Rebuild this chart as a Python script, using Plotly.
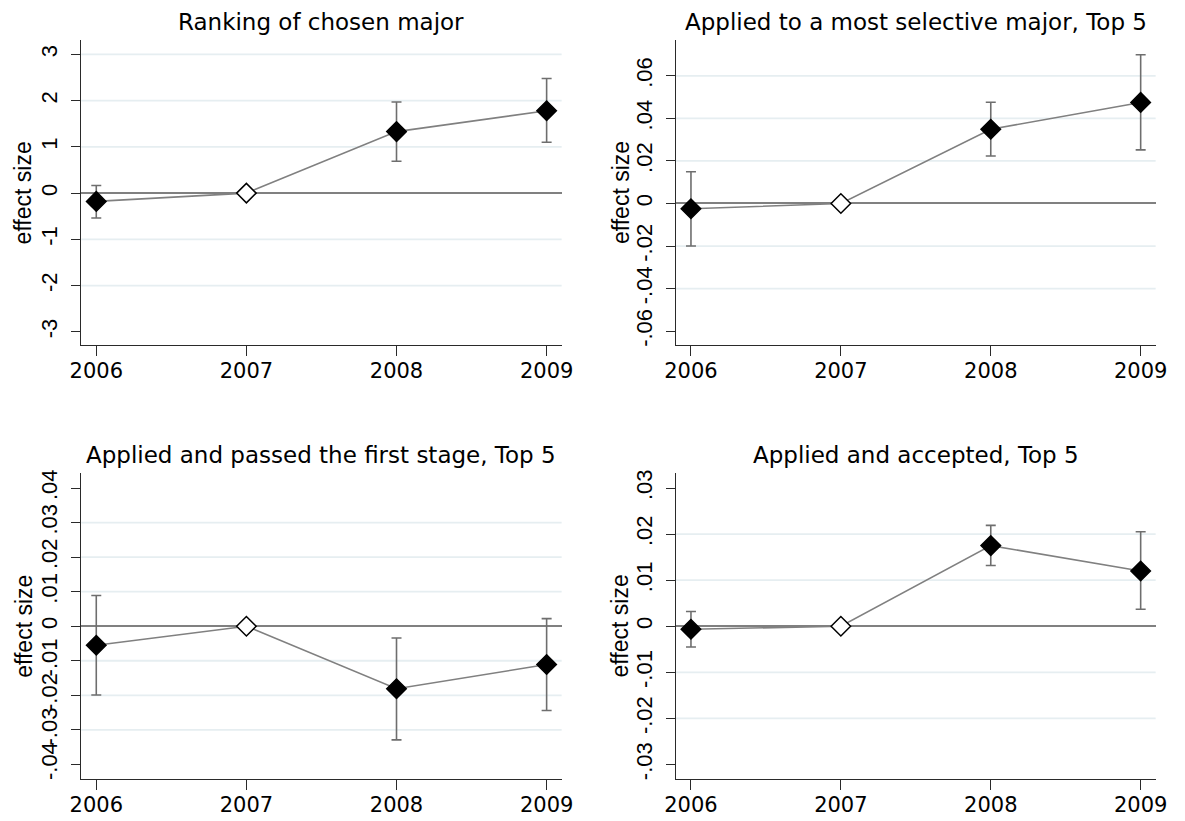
import plotly.graph_objects as go

years = [2006, 2007, 2008, 2009]

titles = [
    "Ranking of chosen major",
    "Applied to a most selective major, Top 5",
    "Applied and passed the first stage, Top 5",
    "Applied and accepted, Top 5",
]

# point estimates and confidence bounds
coef1 = [-0.18, 0.0, 1.33, 1.78]
lo1 = [-0.54, 0.0, 0.69, 1.10]
hi1 = [0.165, 0.0, 1.97, 2.48]

coef2 = [-0.0025, 0.0, 0.0349, 0.0475]
lo2 = [-0.0200, 0.0, 0.0223, 0.0252]
hi2 = [0.0149, 0.0, 0.0476, 0.0699]

coef3 = [-0.0055, 0.0, -0.0181, -0.0111]
lo3 = [-0.0199, 0.0, -0.0329, -0.0244]
hi3 = [0.0089, 0.0, -0.0034, 0.0022]

coef4 = [-0.00065, 0.0, 0.0175, 0.0120]
lo4 = [-0.0045, 0.0, 0.0132, 0.0037]
hi4 = [0.0032, 0.0, 0.0219, 0.0205]

# y ticks
ytick1 = [3, 2, 1, 0, -1, -2, -3]
ylab1 = ["3", "2", "1", "0", "-1", "-2", "-3"]
ygrid1 = [3, 2, 1, -1, -2]

ytick2 = [0.06, 0.04, 0.02, 0, -0.02, -0.04, -0.06]
ylab2 = [".06", ".04", ".02", "0", "-.02", "-.04", "-.06"]
ygrid2 = [0.06, 0.04, 0.02, -0.02, -0.04]

ytick3 = [0.04, 0.03, 0.02, 0.01, 0, -0.01, -0.02, -0.03, -0.04]
ylab3 = [".04", ".03", ".02", ".01", "0", "-.01", "-.02", "-.03", "-.04"]
ygrid3 = [0.03, 0.02, 0.01, -0.01, -0.02, -0.03]

ytick4 = [0.03, 0.02, 0.01, 0, -0.01, -0.02, -0.03]
ylab4 = [".03", ".02", ".01", "0", "-.01", "-.02", "-.03"]
ygrid4 = [0.02, 0.01, -0.01, -0.02]

yrange1 = [-3.29, 3.31]
yrange2 = [-0.0666, 0.0768]
yrange3 = [-0.0443, 0.0444]
yrange4 = [-0.0332, 0.0333]

panels = [
    (coef1, lo1, hi1, ytick1, ylab1, ygrid1, yrange1),
    (coef2, lo2, hi2, ytick2, ylab2, ygrid2, yrange2),
    (coef3, lo3, hi3, ytick3, ylab3, ygrid3, yrange3),
    (coef4, lo4, hi4, ytick4, ylab4, ygrid4, yrange4),
]

W, H = 1185, 821
FONT_H = "DejaVu Sans, Verdana, sans-serif"
FONT_V = "Liberation Sans, Arial, Helvetica, sans-serif"
AXC = "#2a2a2a"

# plot-area geometry in pixels: (left, right, top, bottom)
boxes = [
    (70.7, 561.0, 37.3, 344.3),
    (677.7, 1167.3, 37.3, 344.3),
    (70.7, 561.0, 472.7, 781.0),
    (677.7, 1167.3, 472.7, 781.0),
]
title_y = [19, 19, 455, 455]
ytitle_x = [11, 621, 12, 621]

fig = go.Figure()
layout = dict(
    width=W, height=H,
    margin=dict(l=0, r=0, t=0, b=0),
    paper_bgcolor="white", plot_bgcolor="white",
    showlegend=False,
    font=dict(family=FONT_H, size=21, color="black"),
    shapes=[], annotations=[],
)

for i, (coef, lo, hi, yt, yl, yg, yr) in enumerate(panels):
    n = i + 1
    xa = "x" if n == 1 else f"x{n}"
    ya = "y" if n == 1 else f"y{n}"
    left, right, top, bottom = boxes[i]
    plus = [None if h == c and l == c else h - c for c, l, h in zip(coef, lo, hi)]
    minus = [None if h == c and l == c else c - l for c, l, h in zip(coef, lo, hi)]
    fills = ["white" if (l == c and h == c) else "black" for c, l, h in zip(coef, lo, hi)]
    fig.add_trace(go.Scatter(
        x=years, y=coef, xaxis=xa, yaxis=ya,
        mode="lines+markers",
        line=dict(color="#808080", width=1.6),
        marker=dict(symbol="diamond", size=15, color=fills,
                    line=dict(color="black", width=1.5)),
        error_y=dict(type="data", symmetric=False, array=plus, arrayminus=minus,
                     color="#6e6e6e", thickness=1.6, width=5),
        cliponaxis=False,
    ))
    xkey = "xaxis" if n == 1 else f"xaxis{n}"
    ykey = "yaxis" if n == 1 else f"yaxis{n}"
    layout[xkey] = dict(
        domain=[left / W, right / W], anchor=ya,
        range=[2005.9, 2009.1], tickvals=years, ticktext=[str(y) for y in years],
        showgrid=False, zeroline=False, showline=True, linecolor=AXC, linewidth=1.4,
        ticks="outside", ticklen=10, tickwidth=1.4, tickcolor=AXC,
        ticklabelstandoff=-4,
        tickfont=dict(family=FONT_H, size=21, color="black"), fixedrange=True,
    )
    layout[ykey] = dict(
        domain=[1 - bottom / H, 1 - top / H], anchor=xa,
        range=yr, tickvals=yt, ticktext=yl, tickangle=-90,
        showgrid=False, zeroline=True, zerolinecolor="#808080", zerolinewidth=2,
        showline=True, linecolor=AXC, linewidth=1.4,
        ticks="outside", ticklen=9, tickwidth=1.4, tickcolor=AXC,
        ticklabelstandoff=5,
        tickfont=dict(family=FONT_V, size=22, color="black"), fixedrange=True,
    )
    for g in yg:
        layout["shapes"].append(dict(
            type="line", xref=f"{xa} domain", yref=ya, x0=0, x1=1, y0=g, y1=g,
            line=dict(color="#e6eef1", width=1.8), layer="below",
        ))
    layout["annotations"].append(dict(
        text=titles[i], xref="paper", yref="paper",
        x=(left + right) / 2 / W, y=1 - title_y[i] / H,
        xanchor="center", yanchor="middle", showarrow=False,
        font=dict(family=FONT_H, size=23, color="black"),
    ))
    layout["annotations"].append(dict(
        text="effect size", xref="paper", yref="paper",
        x=ytitle_x[i] / W, y=1 - (top + bottom) / 2 / H,
        xanchor="center", yanchor="middle", textangle=-90, showarrow=False,
        font=dict(family=FONT_V, size=23, color="black"),
    ))

fig.update_layout(**layout)
fig.write_html("out.html")
